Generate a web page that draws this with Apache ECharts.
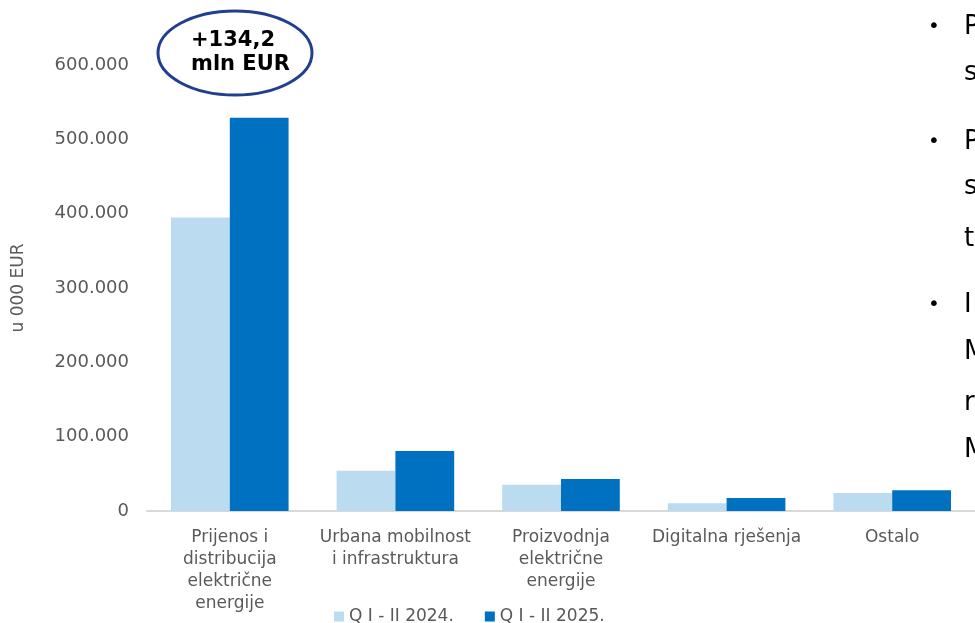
<!DOCTYPE html>
<html>
<head>
<meta charset="utf-8">
<script src="https://cdn.jsdelivr.net/npm/echarts@6/dist/echarts.min.js"></script>
<style>
html,body{margin:0;padding:0;background:#fff;}
#chart{width:975px;height:623px;}
</style>
</head>
<body>
<div id="chart"></div>
<script>
var categories = ['Prijenos i\ndistribucija\nelektrične\nenergije', 'Urbana mobilnost\ni infrastruktura', 'Proizvodnja\nelektrične\nenergije', 'Digitalna rješenja', 'Ostalo'];
var seriesNames = ['Q I - II 2024.', 'Q I - II 2025.'];
var values2024 = [394800, 54200, 35400, 10300, 24200];
var values2025 = [529000, 80800, 43000, 17500, 27800];
var yTicks = [0, 100000, 200000, 300000, 400000, 500000, 600000];
var calloutLines = ['+134,2', 'mln EUR'];
var sideLetters = ['P', 's', 'P', 's', 't', 'I', 'M', 'r', 'M'];
var sideLetterY = [27, 73, 142, 187, 239, 305, 352, 403, 450];
var bulletY = [27, 142, 305];

var FONT = 'DejaVu Sans';
var chart = echarts.init(document.getElementById('chart'));

function fmt(v) {
  return String(v).replace(/\B(?=(\d{3})+(?!\d))/g, '.');
}

var graphics = [
  {
    type: 'ellipse',
    shape: { cx: 235, cy: 53, rx: 77, ry: 42 },
    style: { fill: '#fff', stroke: '#213F8E', lineWidth: 3 },
    z: 100
  },
  {
    type: 'text',
    left: 191, top: 29,
    style: { text: calloutLines.join('\n'), font: 'bold 21px "DejaVu Sans"', fill: '#000', lineHeight: 24 },
    z: 101
  }
];
bulletY.forEach(function (y) {
  graphics.push({ type: 'text', x: 934, y: y, style: { text: '•', font: '20px "DejaVu Sans"', fill: '#000', textVerticalAlign: 'middle', textAlign: 'center' } });
});
sideLetters.forEach(function (ch, i) {
  graphics.push({ type: 'text', x: 964, y: sideLetterY[i], style: { text: ch, font: '26px "DejaVu Sans"', fill: '#000', textVerticalAlign: 'middle', textAlign: 'left' } });
});

chart.setOption({
  animation: false,
  backgroundColor: '#fff',
  textStyle: { fontFamily: FONT },
  grid: { left: 147, width: 833, top: 65, bottom: 112, containLabel: false },
  legend: {
    data: seriesNames,
    left: 329, top: 603,
    icon: 'rect', itemWidth: 10, itemHeight: 10, itemGap: 31,
    textStyle: { fontSize: 17, color: '#595959', fontFamily: FONT }
  },
  xAxis: {
    type: 'category',
    data: categories,
    axisLine: { lineStyle: { color: '#D9D9D9', width: 2 } },
    axisTick: { show: false },
    axisLabel: { interval: 0, margin: 16, fontSize: 17, lineHeight: 22, color: '#595959', fontFamily: FONT }
  },
  yAxis: {
    type: 'value',
    min: 0, max: 600000, interval: 100000,
    name: 'u 000 EUR', nameLocation: 'middle', nameRotate: 90, nameGap: 120,
    nameTextStyle: { fontSize: 17, color: '#595959', fontFamily: FONT },
    axisLine: { show: false },
    axisTick: { show: false },
    splitLine: { show: false },
    axisLabel: { margin: 18, fontSize: 18, color: '#595959', fontFamily: FONT, formatter: function (v) { return yTicks.indexOf(v) >= 0 ? fmt(v) : ''; } }
  },
  series: [
    { name: seriesNames[0], type: 'bar', data: values2024, barGap: '0%', barCategoryGap: '29%', itemStyle: { color: '#BBDCF0' } },
    { name: seriesNames[1], type: 'bar', data: values2025, barGap: '0%', barCategoryGap: '29%', itemStyle: { color: '#0070C0' } }
  ],
  graphic: graphics
});
</script>
</body>
</html>
